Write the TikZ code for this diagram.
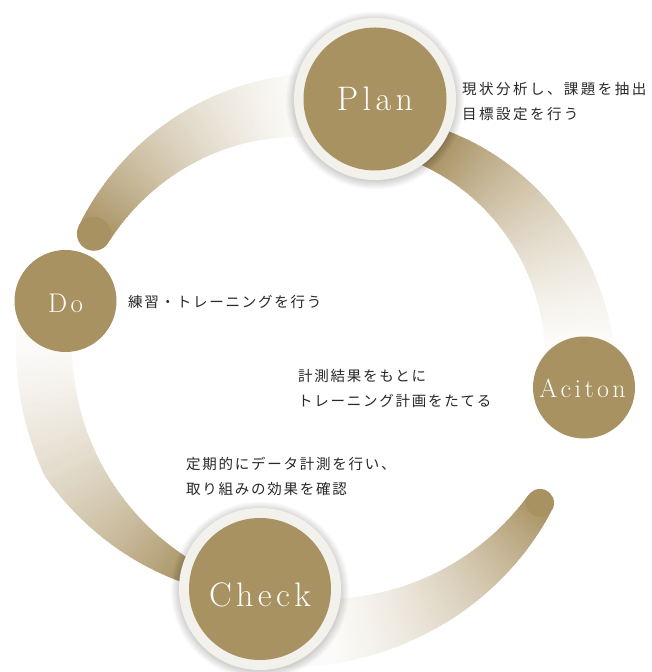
\documentclass[tikz,border=0pt]{standalone}
\usepackage{fontspec}
\newfontfamily\jpfont{Noto Sans CJK JP}[LetterSpace=12]
\newfontfamily\jpfontw{Noto Sans CJK JP}[LetterSpace=17]
\definecolor{bandbrown}{RGB}{169,146,98}
\definecolor{ringc}{RGB}{243,241,236}
\definecolor{txt}{RGB}{40,40,40}
\newcommand\drawband[9]{%
 \foreach \k in {1,...,#9}{%
  \pgfmathsetmacro\fa{(\k-1)/(#9)}%
  \pgfmathsetmacro\fb{min(1,(\k+0.4)/(#9))}%
  \pgfmathsetmacro\ua{(#1)+((#2)-(#1))*\fa}%
  \pgfmathsetmacro\ub{(#1)+((#2)-(#1))*\fb}%
  \pgfmathsetmacro\ria{(#3)+((#4)-(#3))*\fa}%
  \pgfmathsetmacro\rib{(#3)+((#4)-(#3))*\fb}%
  \pgfmathsetmacro\roa{(#5)+((#6)-(#5))*\fa}%
  \pgfmathsetmacro\rob{(#5)+((#6)-(#5))*\fb}%
  \pgfmathsetmacro\g{max(0,min(1,((\ua+\ub)/2-(#7))/((#8)-(#7))))}%
  \pgfmathsetmacro\p{round(10*(4+96*(0.5*\g+0.5*\g*\g)))/10}%
  \fill[bandbrown!\p!white] (\ua:\ria) -- (\ua:\roa) -- (\ub:\rob) -- (\ub:\rib) -- cycle;%
 }%
}
\tikzset{
  disc/.style={circle, fill=bandbrown, inner sep=0pt, outer sep=0pt},
  lbl/.style={text=white, inner sep=0pt, anchor=base},
  jp/.style={font=\jpfont\fontsize{14.5}{16}\selectfont, text=txt, anchor=west, inner sep=0pt},
  jpw/.style={font=\jpfontw\fontsize{14.5}{16}\selectfont, text=txt, anchor=west, inner sep=0pt},
  softshadow/.style={black, opacity=0.02}
}
\begin{document}
\begin{tikzpicture}[x=1pt,y=1pt]
\useasboundingbox (0,0) rectangle (652,672);
\fill[white] (0,0) rectangle (652,672);
% bands
\begin{scope}[shift={(324,326)}]
 \drawband{-8}{65}{223}{204.75}{295.6}{244.5}{2}{60}{110}
 \drawband{85}{154}{204.5}{239}{273}{273}{97}{154}{110}
 \fill[bandbrown] (154:256) circle (17);
 \drawband{172}{205}{252}{252}{308}{308}{180}{240}{50}
 \drawband{205}{250}{252}{252}{308}{265}{180}{240}{70}
 \drawband{-100}{-36}{253}{253}{326}{281}{-88}{-36}{100}
 \fill[bandbrown] (-36:267) circle (14);
\end{scope}
% Plan
\foreach \s in {1,...,9}{\fill[softshadow] (375,571.5) circle ({80+\s});}
\fill[ringc] (375,573) circle (81);
\node[disc, minimum size=143pt] (plan) at (375,573) {};
% Check
\foreach \s in {1,...,9}{\fill[softshadow] (260,81.5) circle ({80+\s});}
\fill[ringc] (260,83) circle (81);
\node[disc, minimum size=142pt] (check) at (260,83) {};
% Do, Aciton
\node[disc, minimum size=102pt] (do) at (65.5,371) {};
\node[disc, minimum size=102pt] (aciton) at (584,284.5) {};
% labels
\node[lbl, font=\fontsize{34}{34}\selectfont] (plantext) at (375,561) {P\kern4.4pt l\kern4.4pt a\kern4.4pt n};
\node[lbl, font=\fontsize{34}{34}\selectfont] (checktext) at (260,65) {C\kern4.4pt h\kern4.4pt e\kern4.4pt c\kern4.4pt k};
\node[lbl, font=\fontsize{26}{26}\selectfont] (acitontext) at (582.5,274) {A\kern3.4pt c\kern3.4pt i\kern3.4pt t\kern3.4pt o\kern3.4pt n};
\node[lbl, font=\fontsize{27}{27}\selectfont] (dotext) at (65.5,359.5) {D\kern3.5pt o};
% descriptions
\node[jpw] (plandesc1) at (462,583) {現状分析し、課題を抽出し、};
\node[jpw] (plandesc2) at (462,558) {目標設定を行う};
\node[jp] (dodesc) at (128,370) {練習・トレーニングを行う};
\node[jp] (actdesc1) at (298,296) {計測結果をもとに};
\node[jp] (actdesc2) at (298,271) {トレーニング計画をたてる};
\node[jp] (checkdesc1) at (186,208) {定期的にデータ計測を行い、};
\node[jp] (checkdesc2) at (186,183) {取り組みの効果を確認};
\end{tikzpicture}
\end{document}
